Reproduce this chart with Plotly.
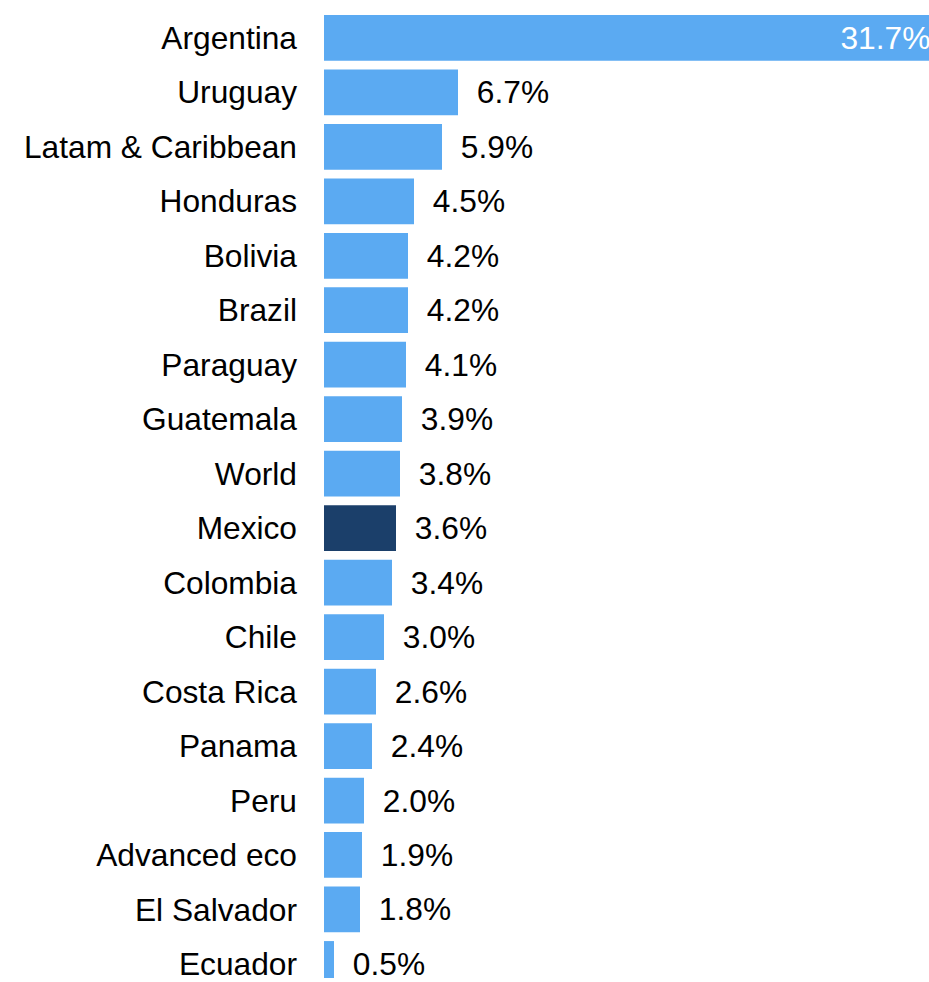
import plotly.graph_objects as go

# Inflation by economy (%), sorted from highest to lowest
countries = [
    "Argentina", "Uruguay", "Latam & Caribbean", "Honduras", "Bolivia", "Brazil",
    "Paraguay", "Guatemala", "World", "Mexico", "Colombia", "Chile", "Costa Rica",
    "Panama", "Peru", "Advanced eco", "El Salvador", "Ecuador",
]
values = [31.7, 6.7, 5.9, 4.5, 4.2, 4.2, 4.1, 3.9, 3.8, 3.6, 3.4, 3.0, 2.6, 2.4,
          2.0, 1.9, 1.8, 0.5]
highlight = "Mexico"

LIGHT = "#5BAAF2"
DARK = "#1B3F6A"
FONT = "Liberation Sans, Arial, Helvetica, sans-serif"
SIZE = 31.7

colors = [DARK if c == highlight else LIGHT for c in countries]
positions = ["inside" if i == 0 else "outside" for i in range(len(values))]
# the long bar keeps its label inside, pulled back a little from the bar end;
# the others sit outside with a small gap after the bar
labels = [
    f"{v:.1f}%" + "\u2002\u00a0" if i == 0 else "\u2002" + f"{v:.1f}%"
    for i, v in enumerate(values)
]

fig = go.Figure(
    go.Bar(
        x=values,
        y=countries,
        orientation="h",
        width=0.84,
        marker=dict(color=colors, line=dict(width=0)),
        text=labels,
        textposition=positions,
        insidetextanchor="end",
        insidetextfont=dict(family=FONT, size=SIZE, color="#ffffff"),
        outsidetextfont=dict(family=FONT, size=SIZE, color="#000000"),
        constraintext="none",
        cliponaxis=True,
        hoverinfo="skip",
    )
)

n = len(countries)
fig.update_layout(
    width=929,
    height=982,
    margin=dict(l=324, r=0, t=0, b=0),
    paper_bgcolor="#ffffff",
    plot_bgcolor="#ffffff",
    showlegend=False,
    font=dict(family=FONT, size=SIZE, color="#000000"),
    xaxis=dict(
        range=[0, 30.25],
        visible=False,
        showgrid=False,
        zeroline=False,
    ),
    yaxis=dict(
        type="category",
        categoryorder="array",
        categoryarray=countries,
        range=[n - 1 + 0.258, -0.695],
        showgrid=False,
        zeroline=False,
        showline=False,
        ticks="",
        ticklabelstandoff=26,
        tickfont=dict(family=FONT, size=SIZE, color="#000000"),
    ),
)

fig.write_html("out.html")
